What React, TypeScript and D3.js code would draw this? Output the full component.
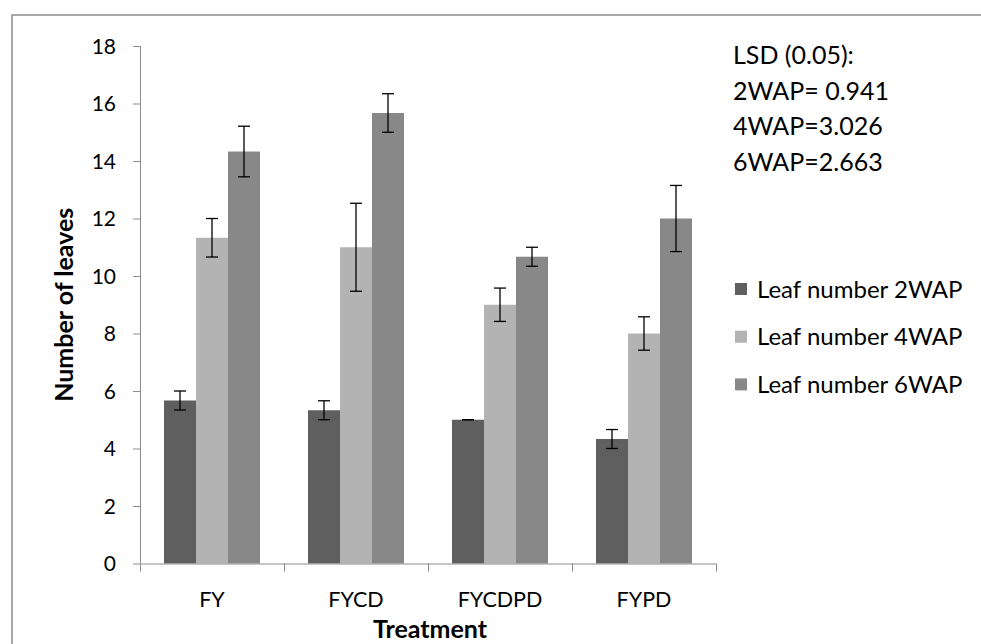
import React from "react";
import * as d3 from "d3";

const categories = ["FY", "FYCD", "FYCDPD", "FYPD"];
const seriesNames = ["Leaf number 2WAP", "Leaf number 4WAP", "Leaf number 6WAP"];
const leaf2WAP = [5.67, 5.33, 5.0, 4.33];
const leaf4WAP = [11.33, 11.0, 9.0, 8.0];
const leaf6WAP = [14.33, 15.67, 10.67, 12.0];
const err2WAP = [0.33, 0.33, 0.0, 0.33];
const err4WAP = [0.67, 1.53, 0.58, 0.58];
const err6WAP = [0.88, 0.67, 0.33, 1.15];
const yTicks = [0, 2, 4, 6, 8, 10, 12, 14, 16, 18];
const lsdLines = ["LSD (0.05):", "2WAP= 0.941", "4WAP=3.026", "6WAP=2.663"];

const colors = ["#5f5f5f", "#b3b3b3", "#888888"];
const FONT = "Lato, 'Open Sans', sans-serif";

export default function App() {
  const W = 981, H = 644;
  const x0 = 140, x1 = 716, yTop = 46, yBot = 563.5;
  const values = [leaf2WAP, leaf4WAP, leaf6WAP];
  const errs = [err2WAP, err4WAP, err6WAP];

  const x = d3.scaleBand<string>().domain(categories).range([x0, x1]).paddingInner(0).paddingOuter(0);
  const inner = d3.scaleBand<number>().domain([0, 1, 2]).range([0, x.bandwidth()]).paddingInner(0).paddingOuter(0.75);
  const y = d3.scaleLinear().domain([0, 18]).range([yBot, yTop]);

  return (
    <svg width={W} height={H} style={{ position: "absolute", left: 0, top: 0 }}>
      <rect x={0} y={0} width={W} height={H} fill="#fff" />
      <rect x={12} y={15} width={W + 10} height={H + 10} fill="none" stroke="#8c8c8c" strokeWidth={1.5} />

      {/* y axis */}
      <line x1={x0 + 0.5} x2={x0 + 0.5} y1={yTop} y2={yBot} stroke="#8c8c8c" />
      {yTicks.map((t) => (
        <g key={t}>
          <line x1={x0 - 7} x2={x0} y1={y(t) + 0.5} y2={y(t) + 0.5} stroke="#8c8c8c" />
          <text x={116} y={y(t)} dy="0.36em" textAnchor="end" fontFamily={FONT} fontSize={21} fill="#000">
            {t}
          </text>
        </g>
      ))}

      {/* bars */}
      {categories.map((c, i) => (
        <g key={c}>
          {values.map((vals, s) => (
            <rect
              key={s}
              x={(x(c) as number) + (inner(s) as number)}
              y={y(vals[i])}
              width={inner.bandwidth()}
              height={yBot - y(vals[i])}
              fill={colors[s]}
            />
          ))}
        </g>
      ))}

      {/* error bars */}
      {categories.map((c, i) => (
        <g key={c + "-err"}>
          {values.map((vals, s) => {
            const cx = (x(c) as number) + (inner(s) as number) + inner.bandwidth() / 2;
            const hi = y(vals[i] + errs[s][i]);
            const lo = y(vals[i] - errs[s][i]);
            return (
              <g key={s} stroke="#000" strokeWidth={1.3}>
                <line x1={cx} x2={cx} y1={hi} y2={lo} />
                <line x1={cx - 6} x2={cx + 6} y1={hi} y2={hi} />
                <line x1={cx - 6} x2={cx + 6} y1={lo} y2={lo} />
              </g>
            );
          })}
        </g>
      ))}

      {/* x axis */}
      <line x1={x0} x2={x1} y1={yBot + 0.5} y2={yBot + 0.5} stroke="#8c8c8c" />
      {[...categories.map((c) => x(c) as number), x1].map((t, k) => (
        <line key={k} x1={t + 0.5} x2={t + 0.5} y1={yBot} y2={yBot + 8} stroke="#8c8c8c" />
      ))}
      {categories.map((c) => (
        <text
          key={c}
          x={(x(c) as number) + x.bandwidth() / 2}
          y={607}
          textAnchor="middle"
          fontFamily={FONT}
          fontSize={21.5}
          fill="#000"
        >
          {c}
        </text>
      ))}
      <text x={(x0 + x1) / 2 + 2} y={638} textAnchor="middle" fontFamily={FONT} fontSize={25} fontWeight="bold" fill="#000">
        Treatment
      </text>
      <text
        transform={`translate(73, ${(yTop + yBot) / 2}) rotate(-90)`}
        textAnchor="middle"
        fontFamily={FONT}
        fontSize={25}
        fontWeight="bold"
        fill="#000"
      >
        Number of leaves
      </text>

      {/* LSD annotation */}
      {lsdLines.map((l, k) => (
        <text key={k} x={733} y={64 + k * 35.5} fontFamily={FONT} fontSize={25} fill="#000">
          {l}
        </text>
      ))}

      {/* legend */}
      {seriesNames.map((n, k) => (
        <g key={n} transform={`translate(735, ${289 + k * 47.7})`}>
          <rect x={0} y={-6} width={12} height={12} fill={colors[k]} />
          <text x={22} y={0} dy="0.36em" fontFamily={FONT} fontSize={24} fill="#000">
            {n}
          </text>
        </g>
      ))}
    </svg>
  );
}
